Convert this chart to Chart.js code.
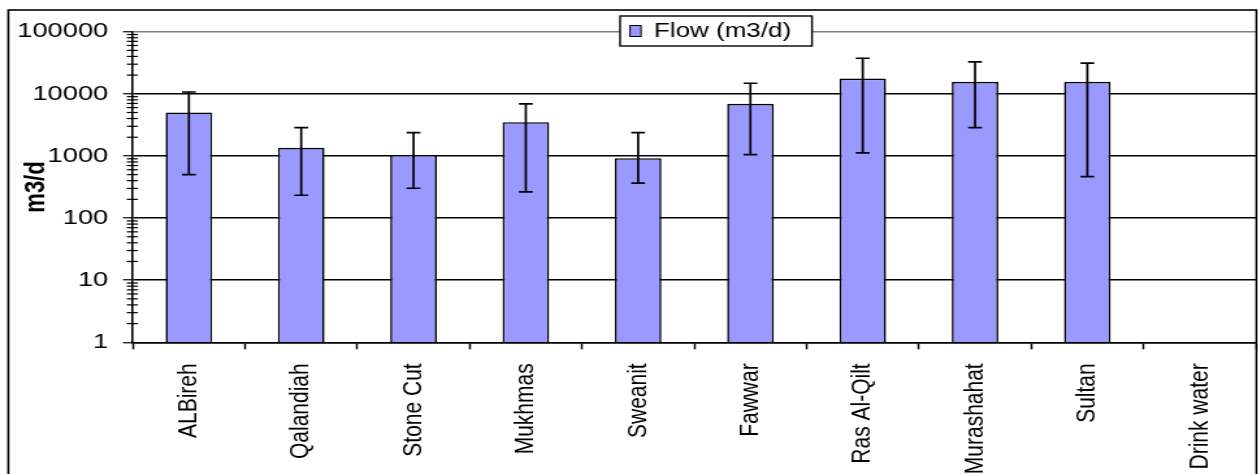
<!DOCTYPE html>
<html>
<head>
<meta charset="utf-8">
<script src="https://cdn.jsdelivr.net/npm/chart.js@4.4.1/dist/chart.umd.min.js"></script>
<style>
  html, body { margin: 0; padding: 0; background: #fff; overflow: hidden; }
  #frame { width: 1258px; height: 474px; overflow: hidden; }
  /* the original figure is stretched sideways, so the canvas is too */
  #stretch { width: 968px; height: 474px; transform: scaleX(1.3); transform-origin: 0 0; }
</style>
</head>
<body>
<div id="frame"><div id="stretch"><canvas id="flow-chart"></canvas></div></div>
<script>
const sites = ["ALBireh", "Qalandiah", "Stone Cut", "Mukhmas", "Sweanit", "Fawwar", "Ras Al-Qilt", "Murashahat", "Sultan", "Drink water"];
const flow = [5000, 1350, 1040, 3500, 920, 6900, 17600, 15600, 15600, null];
const flowHigh = [10700, 2850, 2370, 6900, 2370, 14800, 37400, 32700, 31100, null];
const flowLow = [500, 233, 302, 263, 364, 1050, 1120, 2850, 464, null];
const yMajorTicks = [1, 10, 100, 1000, 10000, 100000];
const yMinorSteps = [2, 3, 4, 5, 6, 7, 8, 9];

Chart.defaults.font.family = "'Liberation Sans', Arial, sans-serif";
Chart.defaults.color = "#000";

const isMajor = (v) => yMajorTicks.includes(v);

// error bars, placed with the bar elements and the y scale
const errorBars = {
  id: "errorBars",
  afterDatasetsDraw(chart) {
    const ctx = chart.ctx;
    const y = chart.scales.y;
    const meta = chart.getDatasetMeta(0);
    ctx.save();
    ctx.strokeStyle = "#000";
    ctx.lineWidth = 1.7;
    meta.data.forEach((bar, i) => {
      if (flowHigh[i] == null) return;
      const yTop = y.getPixelForValue(flowHigh[i]);
      const yBot = y.getPixelForValue(flowLow[i]);
      ctx.beginPath();
      ctx.moveTo(bar.x, yTop);
      ctx.lineTo(bar.x, yBot);
      ctx.moveTo(bar.x - 5.3, yTop);
      ctx.lineTo(bar.x + 5.3, yTop);
      ctx.moveTo(bar.x - 5.3, yBot);
      ctx.lineTo(bar.x + 5.3, yBot);
      ctx.stroke();
    });
    ctx.restore();
  }
};

// minor ticks crossing the axis, legend box and outer frame
const extras = {
  id: "extras",
  afterDraw(chart) {
    const ctx = chart.ctx;
    const y = chart.scales.y;
    const left = chart.chartArea.left;
    ctx.save();
    ctx.strokeStyle = "#000";
    ctx.lineWidth = 1.2;
    y.ticks.forEach((t) => {
      if (isMajor(t.value)) return;
      const py = y.getPixelForValue(t.value);
      ctx.beginPath();
      ctx.moveTo(left - 4.6, py);
      ctx.lineTo(left + 4, py);
      ctx.stroke();
    });

    // legend
    const ds = chart.data.datasets[0];
    ctx.fillStyle = "#fff";
    ctx.fillRect(477, 16, 147.6, 30);
    ctx.lineWidth = 1.4;
    ctx.strokeRect(477, 16, 147.6, 30);
    ctx.fillStyle = ds.backgroundColor;
    ctx.fillRect(484.6, 25.5, 8.5, 11);
    ctx.lineWidth = 1;
    ctx.strokeRect(484.6, 25.5, 8.5, 11);
    ctx.fillStyle = "#000";
    ctx.font = "20px 'Liberation Sans', Arial, sans-serif";
    ctx.textBaseline = "middle";
    ctx.textAlign = "left";
    ctx.fillText(ds.label, 503, 31.5);

    // frame
    ctx.lineWidth = 1.6;
    ctx.strokeRect(6.4, 10, 960.1, 480);
    ctx.restore();
  }
};

const yTickList = [];
yMajorTicks.forEach((m) => {
  yTickList.push(m);
  if (m < 100000) yMinorSteps.forEach((k) => yTickList.push(m * k));
});

new Chart(document.getElementById("flow-chart"), {
  type: "bar",
  data: {
    labels: sites,
    datasets: [{
      label: "Flow (m3/d)",
      data: flow,
      backgroundColor: "#9999FF",
      borderColor: "#000",
      borderWidth: 1.6,
      barPercentage: 0.415,
      categoryPercentage: 1.0
    }]
  },
  options: {
    responsive: true,
    maintainAspectRatio: false,
    animation: false,
    layout: { padding: { top: 31.7, left: 0, right: 2, bottom: 0 } },
    plugins: {
      legend: { display: false },
      tooltip: { enabled: false }
    },
    scales: {
      x: {
        type: "category",
        offset: true,
        afterFit: (s) => { s.height = 131.7; },
        grid: {
          offset: true,
          drawOnChartArea: false,
          tickLength: 7,
          tickColor: "#000",
          tickWidth: 1.5
        },
        border: { color: "#000", width: 1.6 },
        ticks: {
          autoSkip: false,
          minRotation: 90,
          maxRotation: 90,
          padding: 14,
          color: "#000",
          font: { size: 21 }
        }
      },
      y: {
        type: "logarithmic",
        min: 1,
        max: 100000,
        afterFit: (s) => { s.width = 102.1; },
        afterBuildTicks: (s) => { s.ticks = yTickList.map((v) => ({ value: v })); },
        grid: {
          color: (c) => c.tick && c.tick.value === 100000 ? "#808080" : (c.tick && isMajor(c.tick.value) ? "#000" : "rgba(0,0,0,0)"),
          lineWidth: 1.5,
          tickLength: 7.5,
          tickWidth: 1.2,
          tickColor: (c) => c.tick && isMajor(c.tick.value) ? "#000" : "rgba(0,0,0,0)"
        },
        border: { color: "#000", width: 1.6 },
        title: {
          display: true,
          text: "m3/d",
          color: "#000",
          font: { size: 22, weight: "bold" },
          padding: { top: 15, bottom: 0 }
        },
        ticks: {
          autoSkip: false,
          padding: 11.3,
          color: "#000",
          font: { size: 21 },
          callback: (v) => isMajor(v) ? String(v) : ""
        }
      }
    }
  },
  plugins: [errorBars, extras]
});
</script>
</body>
</html>
